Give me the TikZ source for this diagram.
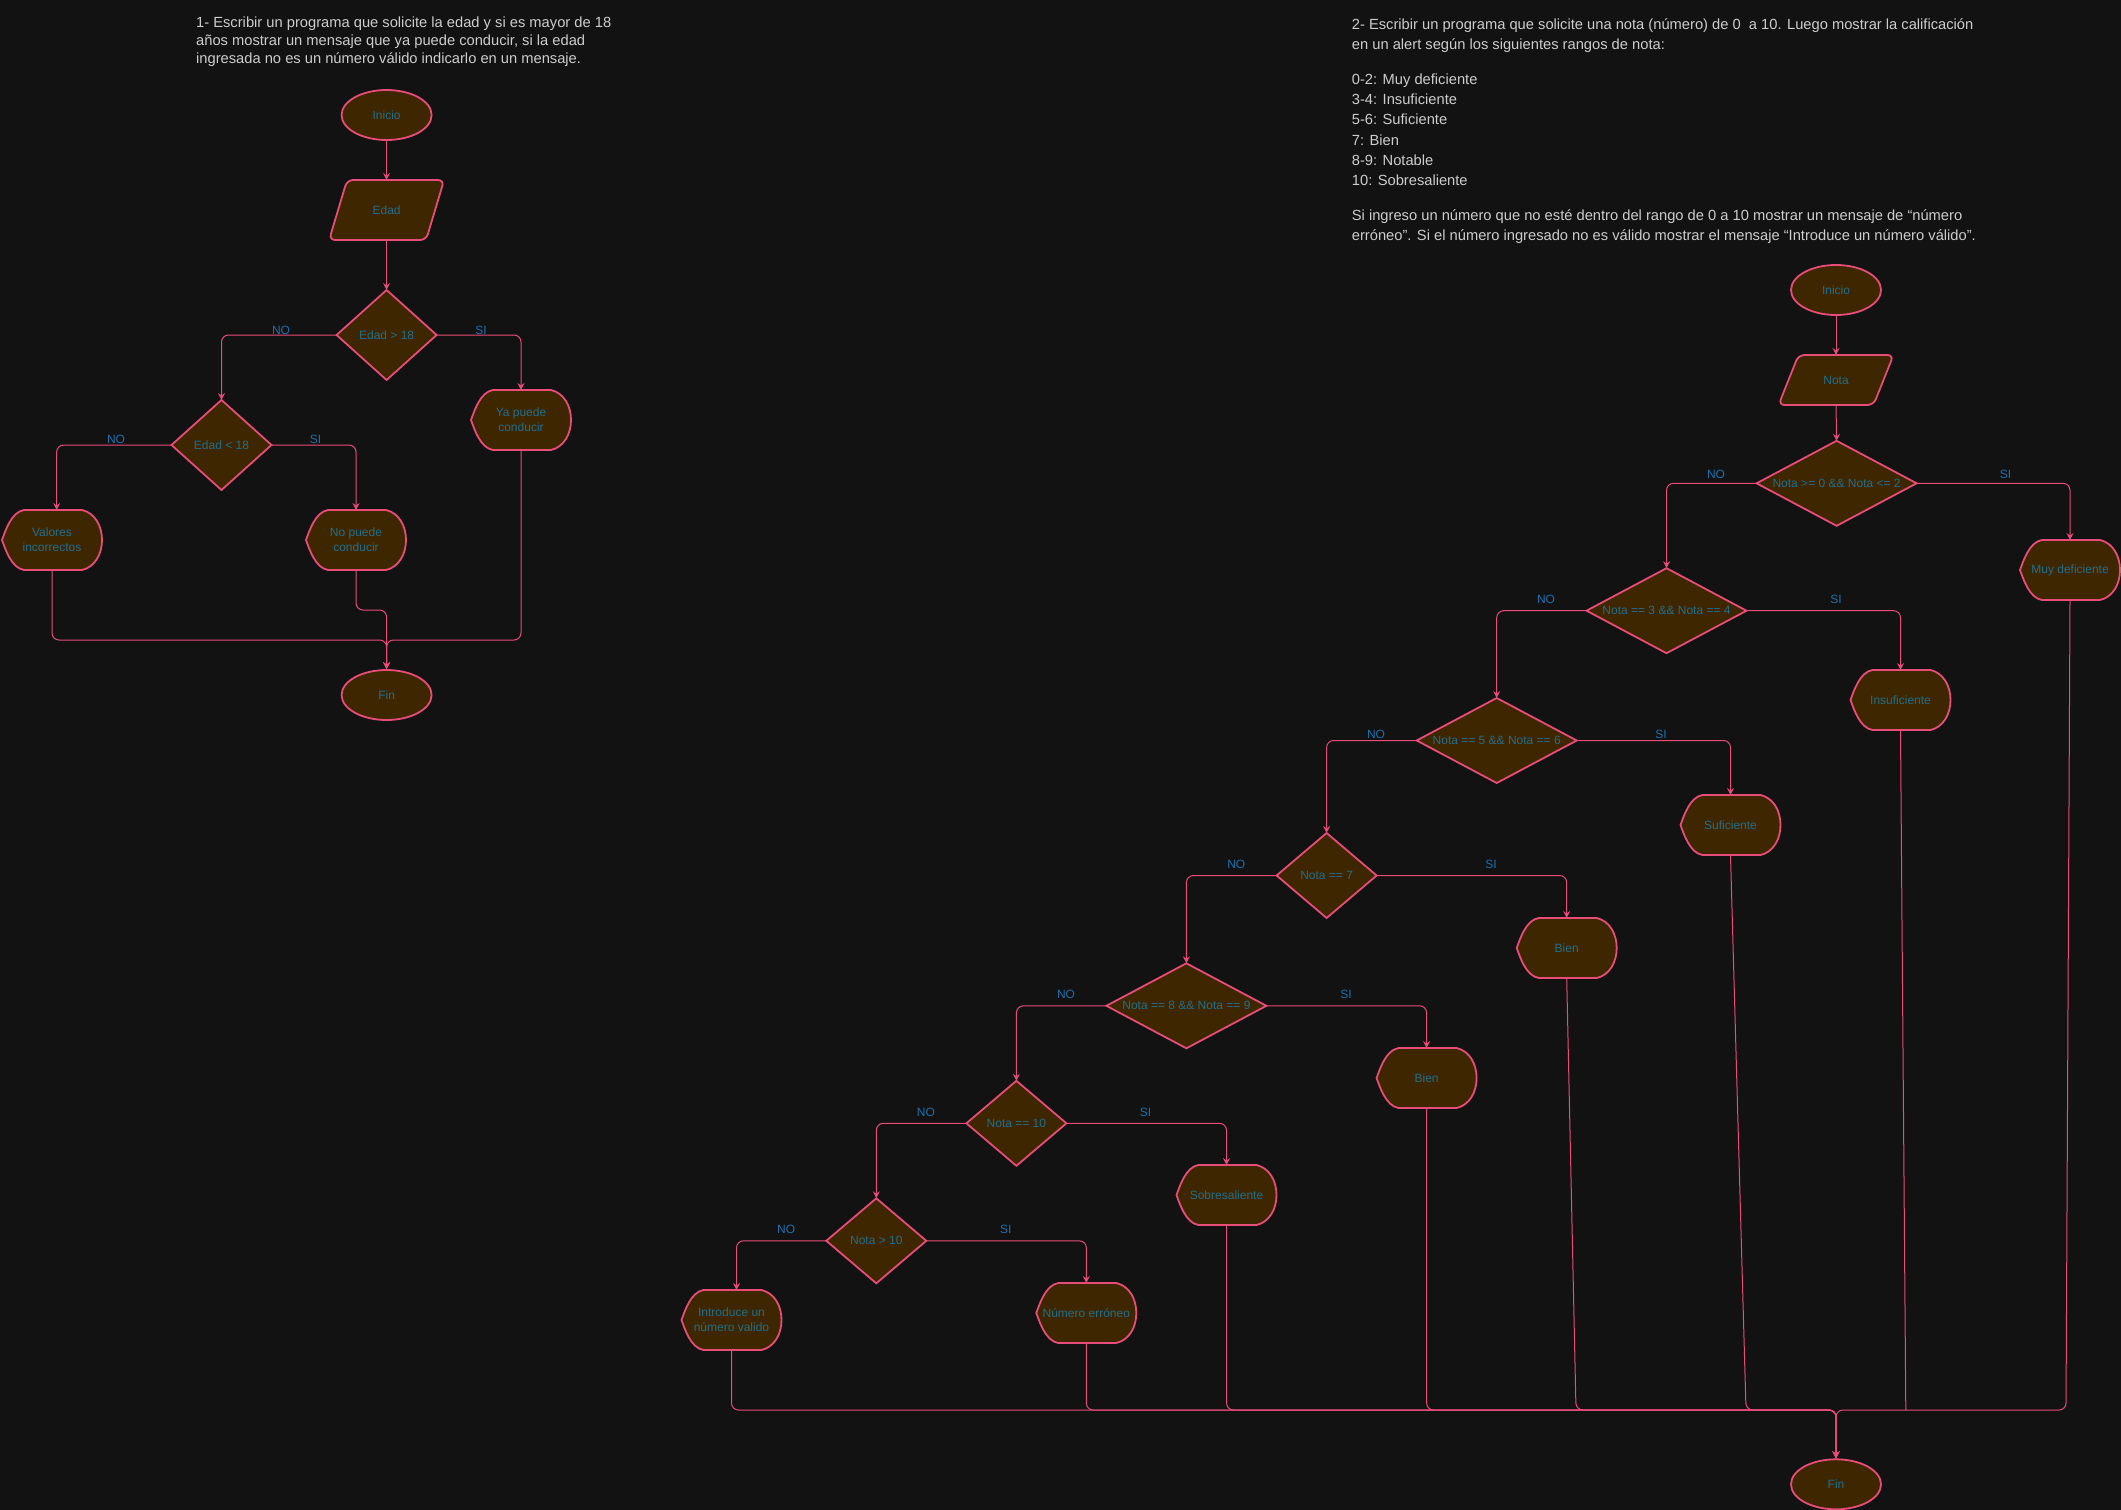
\documentclass[tikz,border=0pt]{standalone}
\usepackage{fontspec}
\setmainfont{Liberation Sans}
\usetikzlibrary{shapes.geometric,arrows.meta}
\definecolor{bgc}{RGB}{18,18,18}
\definecolor{pinkc}{RGB}{232,76,120}
\definecolor{brownc}{RGB}{61,38,0}
\definecolor{ntext}{RGB}{35,110,140}
\definecolor{lblc}{RGB}{33,112,172}
\definecolor{titc}{RGB}{205,205,205}
\tikzset{
  shapeborder/.style={draw=pinkc, fill=brownc, line width=1.8pt},
  ntxt/.style={text=ntext, font=\fontsize{12}{15}\selectfont, align=center},
  termnode/.style={ellipse, shapeborder, ntxt, minimum width=90pt, minimum height=50pt, inner sep=0pt},
  decnode/.style={diamond, shapeborder, ntxt, inner sep=0pt, outer sep=0pt},
  boxnode/.style={rectangle, ntxt, inner sep=0pt, outer sep=0pt},
  edge/.style={draw=pinkc, line width=1pt, rounded corners=7pt, -{Stealth[length=7pt,width=7pt,inset=2.5pt]}},
  plainedge/.style={draw=pinkc, line width=1pt},
  lbl/.style={text=lblc, font=\fontsize{12}{14}\selectfont, inner sep=0pt},
  titleline/.style={text=titc, font=\fontsize{14.7}{18}\selectfont, inner sep=0pt, anchor=base west},
}
\newcommand\dispshape[4]{%
  \filldraw[shapeborder, shift={(#2,#3)}] (-28,-30) -- (30,-30)
    .. controls (43,-27) and (50,-14) .. (50,0)
    .. controls (50,14) and (43,27) .. (30,30)
    -- (-28,30)
    .. controls (-41,28) and (-47,8) .. (-50,0)
    .. controls (-47,-8) and (-41,-28) .. (-28,-30) -- cycle;
  \node[boxnode, minimum width=100pt, minimum height=60pt] (#1) at (#2,#3) {#4};
}
\newcommand\decshape[6]{%
  \node[decnode, minimum width=#4pt, minimum height=#5pt] (#1) at (#2,#3) {\makebox[0pt]{#6}};
}
\begin{document}
\begin{tikzpicture}[x=1pt, y=-1pt]
\fill[bgc] (0,0) rectangle (2121,1510);
\useasboundingbox (0,0) rectangle (2121,1510);

% ---------- titles ----------
\node[titleline] (tA1) at (196,27.5) {1- Escribir un programa que solicite la edad y si es mayor de 18};
\node[titleline] (tA2) at (196,45.5) {años mostrar un mensaje que ya puede conducir, si la edad};
\node[titleline] (tA3) at (196,63.5) {ingresada no es un número válido indicarlo en un mensaje.};

\node[titleline] (tB1) at (1351.7,29.3) {2- Escribir un programa que solicite una nota (número) de 0 \ a 10. Luego mostrar la calificación};
\node[titleline] (tB2) at (1351.7,49.8) {en un alert según los siguientes rangos de nota:};
\node[titleline] (tB3) at (1351.7,84.3) {0-2: Muy deficiente};
\node[titleline] (tB4) at (1351.7,104.6) {3-4: Insuficiente};
\node[titleline] (tB5) at (1351.7,124.9) {5-6: Suficiente};
\node[titleline] (tB6) at (1351.7,145.2) {7: Bien};
\node[titleline] (tB7) at (1351.7,165.5) {8-9: Notable};
\node[titleline] (tB8) at (1351.7,185.8) {10: Sobresaliente};
\node[titleline] (tB9) at (1351.7,220.3) {Si ingreso un número que no esté dentro del rango de 0 a 10 mostrar un mensaje de “número};
\begin{scope}
\clip (1300,225) rectangle (2121,242.5);
\node[titleline] (tB10) at (1351.7,240.6) {erróneo”. Si el número ingresado no es válido mostrar el mensaje “Introduce un número válido”.};
\end{scope}

% ---------- left chart ----------
\node[termnode] (ini1) at (386.6,115) {Inicio};
\filldraw[shapeborder, rounded corners=6pt] (347.1,180) -- (444.1,180) -- (426.1,240) -- (329.1,240) -- cycle;
\node[boxnode, minimum width=115pt, minimum height=60pt] (edad) at (386.6,210) {Edad};
\decshape{d1}{386.6}{335}{100}{90}{Edad > 18}
\decshape{d2}{221.5}{445}{100}{90}{Edad < 18}
\dispshape{ya}{521}{420}{Ya puede\\conducir}
\dispshape{val}{52}{540}{Valores\\incorrectos}
\dispshape{np}{356}{540}{No puede\\conducir}
\node[termnode] (fin1) at (386.6,695) {Fin};

\coordinate (mL) at (386.6,640);
\coordinate (sL) at (386.6,610);

\draw[edge] (ini1.south) -- (edad.north);
\draw[edge] (edad.south) -- (d1.north);
\draw[edge] (d1.west) -| (d2.north);
\draw[edge] (d1.east) -| (ya.north);
\draw[edge] (d2.west) -| ([xshift=4.7pt]val.north);
\draw[edge] (d2.east) -| (np.north);
\draw[edge] (val.south) |- (mL) -- (fin1.north);
\draw[edge] (ya.south) |- (mL) -- (fin1.north);
\draw[edge] (np.south) |- (sL) -- (fin1.north);

\node[lbl] (l1n) at (281,330) {NO};
\node[lbl] (l1s) at (481,330) {SI};
\node[lbl] (l2n) at (116,439.5) {NO};
\node[lbl] (l2s) at (315.6,439.5) {SI};

% ---------- right chart ----------
\node[termnode] (ini2) at (1836,290) {Inicio};
\filldraw[shapeborder, rounded corners=6pt] (1798.5,355) -- (1893.5,355) -- (1873.5,405) -- (1778.5,405) -- cycle;
\node[boxnode, minimum width=115pt, minimum height=50pt] (nota) at (1836,380) {Nota};

\decshape{r1}{1836.6}{483.3}{160}{85}{Nota >= 0 \&\& Nota <= 2}
\decshape{r2}{1666.5}{610.7}{160}{85}{Nota == 3 \&\& Nota == 4}
\decshape{r3}{1496.7}{740.5}{160}{85}{Nota == 5 \&\& Nota == 6}
\decshape{r4}{1326.6}{875.5}{100}{85}{Nota == 7}
\decshape{r5}{1186.4}{1005.8}{160}{85}{Nota == 8 \&\& Nota == 9}
\decshape{r6}{1016.4}{1123.3}{100}{85}{Nota == 10}
\decshape{r7}{876.3}{1240.8}{100}{85}{Nota > 10}

\dispshape{muy}{2070}{570}{Muy deficiente}
\dispshape{insu}{1900.5}{700}{Insuficiente}
\dispshape{sufi}{1730.5}{825}{Suficiente}
\dispshape{bienA}{1566.7}{948}{Bien}
\dispshape{bienB}{1426.6}{1078}{Bien}
\dispshape{sobre}{1226.5}{1195}{Sobresaliente}
\dispshape{intro}{731.5}{1320}{Introduce un\\número valido}
\dispshape{nerr}{1086.3}{1313}{Número erróneo}

\node[termnode] (fin2) at (1836,1484.3) {Fin};

\draw[edge] (ini2.south) -- (nota.north);
\draw[edge] (nota.south) -- (r1.north);
\draw[edge] (r1.west) -| (r2.north);
\draw[edge] (r1.east) -| (muy.north);
\draw[edge] (r2.west) -| (r3.north);
\draw[edge] (r2.east) -| (insu.north);
\draw[edge] (r3.west) -| (r4.north);
\draw[edge] (r3.east) -| (sufi.north);
\draw[edge] (r4.west) -| (r5.north);
\draw[edge] (r4.east) -| (bienA.north);
\draw[edge] (r5.west) -| (r6.north);
\draw[edge] (r5.east) -| (bienB.north);
\draw[edge] (r6.west) -| (r7.north);
\draw[edge] (r6.east) -| (sobre.north);
\draw[edge] (r7.west) -| ([xshift=5pt]intro.north);
\draw[edge] (r7.east) -| (nerr.north);

\coordinate (mR) at (1836,1410);
\coordinate (bAm) at (1576,1410);
\coordinate (sum) at (1746,1410);
\coordinate (inm) at (1905.8,1410);
\coordinate (mym) at (2066,1410);

\draw[edge] (intro.south) |- (mR) -- (fin2.north);
\draw[edge] (nerr.south) |- (mR) -- (fin2.north);
\draw[edge] (sobre.south) |- (mR) -- (fin2.north);
\draw[edge] (bienB.south) |- (mR) -- (fin2.north);
\draw[edge] (bienA.south) -- (bAm) -- (mR) -- (fin2.north);
\draw[edge] (sufi.south) -- (sum) -- (mR) -- (fin2.north);
\draw[edge] (muy.south) -- (mym) -- (mR) -- (fin2.north);
\draw[plainedge] (insu.south) -- (inm);

\node[lbl] (n1) at (1716,474) {NO};
\node[lbl] (s1) at (2005.6,474) {SI};
\node[lbl] (n2) at (1546,599.3) {NO};
\node[lbl] (s2) at (1836,599.3) {SI};
\node[lbl] (n3) at (1376,734.3) {NO};
\node[lbl] (s3) at (1661,734.3) {SI};
\node[lbl] (n4) at (1236.3,864.3) {NO};
\node[lbl] (s4) at (1491,864.3) {SI};
\node[lbl] (n5) at (1066,994.3) {NO};
\node[lbl] (s5) at (1346,994.3) {SI};
\node[lbl] (n6) at (925.9,1112.3) {NO};
\node[lbl] (s6) at (1145.6,1112.5) {SI};
\node[lbl] (n7) at (786.2,1229.3) {NO};
\node[lbl] (s7) at (1005.8,1229.3) {SI};
\end{tikzpicture}
\end{document}
